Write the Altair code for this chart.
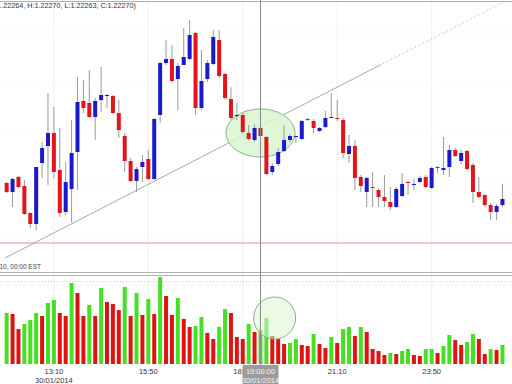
import altair as alt
import pandas as pd

# ---- candle data (10-minute bars, index 0 = 11:50, 30/01/2014) ----
opens = [1.22200,1.22191,1.22206,1.22197,1.22170,1.22159,1.22220,1.22237,1.22250,1.22213,
         1.22171,1.22194,1.22231,1.22282,1.22280,1.22266,1.22283,1.22287,1.22287,1.22270,
         1.22247,1.22222,1.22202,1.22216,1.22224,1.22204,1.22268,1.22320,1.22324,1.22304,
         1.22318,1.22324,1.22350,1.22275,1.22304,1.22319,1.22343,1.22309,1.22284,1.22267,
         1.22268,1.22250,1.22243,1.22255,1.22246,1.22211,1.22219,1.22232,1.22243,1.22246,
         1.22244,1.22264,1.22262,1.22252,1.22256,1.22265,1.22265,1.22263,1.22229,1.22237,
         1.22206,1.22191,1.22196,1.22193,1.22186,1.22181,1.22176,1.22187,1.22201,1.22198,
         1.22201,1.22206,1.22195,1.22216,1.22213,1.22216,1.22233,1.22222,1.22232,1.22218,
         1.22191,1.22188,1.22178,1.22171,1.22178]
highs = [1.22201,1.22205,1.22207,1.22203,1.22171,1.22216,1.22241,1.22290,1.22276,1.22255,
         1.22221,1.22263,1.22306,1.22303,1.22313,1.22285,1.22316,1.22289,1.22288,1.22283,
         1.22250,1.22225,1.22216,1.22228,1.22233,1.22265,1.22321,1.22343,1.22338,1.22320,
         1.22355,1.22363,1.22351,1.22333,1.22323,1.22353,1.22353,1.22310,1.22296,1.22280,
         1.22270,1.22258,1.22259,1.22258,1.22247,1.22220,1.22235,1.22258,1.22249,1.22248,
         1.22263,1.22265,1.22264,1.22256,1.22272,1.22290,1.22283,1.22265,1.22248,1.22243,
         1.22208,1.22206,1.22211,1.22195,1.22208,1.22196,1.22196,1.22210,1.22202,1.22204,
         1.22207,1.22208,1.22216,1.22217,1.22246,1.22238,1.22235,1.22233,1.22233,1.22220,
         1.22206,1.22189,1.22180,1.22179,1.22199]
lows  = [1.22190,1.22176,1.22195,1.22168,1.22155,1.22153,1.22205,1.22198,1.22205,1.22166,
         1.22168,1.22161,1.22193,1.22270,1.22265,1.22243,1.22271,1.22275,1.22269,1.22245,
         1.22211,1.22201,1.22191,1.22201,1.22203,1.22203,1.22260,1.22318,1.22300,1.22273,
         1.22318,1.22323,1.22268,1.22273,1.22301,1.22318,1.22305,1.22283,1.22263,1.22263,
         1.22249,1.22243,1.22241,1.22245,1.22208,1.22208,1.22217,1.22231,1.22241,1.22240,
         1.22243,1.22262,1.22250,1.22251,1.22255,1.22265,1.22262,1.22225,1.22220,1.22193,
         1.22191,1.22176,1.22176,1.22176,1.22176,1.22173,1.22175,1.22186,1.22188,1.22193,
         1.22200,1.22195,1.22194,1.22210,1.22208,1.22206,1.22226,1.22219,1.22213,1.22180,
         1.22185,1.22177,1.22163,1.22163,1.22176]
closes = [1.22191,1.22204,1.22196,1.22169,1.22159,1.22216,1.22235,1.22250,1.22211,1.22170,
          1.22201,1.22230,1.22281,1.22275,1.22266,1.22282,1.22288,1.22288,1.22270,1.22253,
          1.22222,1.22202,1.22214,1.22221,1.22204,1.22264,1.22320,1.22324,1.22302,1.22317,
          1.22326,1.22348,1.22275,1.22302,1.22320,1.22346,1.22307,1.22285,1.22265,1.22268,
          1.22251,1.22244,1.22255,1.22247,1.22209,1.22217,1.22231,1.22243,1.22247,1.22247,
          1.22262,1.22263,1.22255,1.22255,1.22265,1.22266,1.22264,1.22230,1.22237,1.22205,
          1.22197,1.22205,1.22195,1.22186,1.22182,1.22176,1.22194,1.22199,1.22200,1.22199,
          1.22205,1.22196,1.22215,1.22215,1.22215,1.22233,1.22227,1.22230,1.22214,1.22191,
          1.22186,1.22178,1.22171,1.22177,1.22184]

# ---- volume data ----
volumes = [510,500,350,400,440,510,480,610,640,510,480,810,710,480,590,480,760,620,600,540,
           770,480,710,490,650,500,870,680,490,660,450,370,380,470,310,250,370,550,510,270,
           250,400,320,340,460,280,250,200,210,250,190,180,300,200,160,270,210,350,370,280,
           370,320,150,130,90,110,100,130,150,90,80,150,150,110,180,290,240,190,220,300,
           250,100,150,140,190]
vol_dir = list("GRRGGGRGGRRGRRGRGRRRGRGRGRGRRGRRGGRRGGRRRGRGGRRRGGRRGRRGRGGRGRRRRGRGGRRGGRGGRRGGRRGRG")

# ---- axis labels / annotations ----
tick_index = [8, 24, 40, 56, 72]
tick_labels = ["13:10", "15:50", "18:30", "21:10", "23:50"]
date_label = "30/01/2014"
grid_prices = [1.22351, 1.22301, 1.22250, 1.22199, 1.22148]
red_level = [1.22140]
trend_solid_i = [-0.28, 63.3]
trend_solid_p = [1.22125, 1.22318]
trend_dot_i = [63.3, 84.27]
trend_dot_p = [1.22318, 1.22381]
cursor_index = 43
cursor_time = "19:00:00"
header = "(O:1.22264, H:1.22270, L:1.22263, C:1.22270)"
footer_note = "07/11/2010, 00:00 EST"
ellipse_center = [43.0, 1.22250]
vol_circle_center = [45.4, 460]

BLUE = "#1a1acc"
RED = "#e3151b"
GREEN = "#45e022"
VRED = "#e01313"
FONT = "Liberation Sans"

n = len(opens)
candles = pd.DataFrame({"i": list(range(n)), "open": opens, "high": highs,
                        "low": lows, "close": closes})
candles["up"] = candles["close"] >= candles["open"]
vol = pd.DataFrame({"i": list(range(n)), "vol": volumes, "dir": vol_dir})

xs = alt.Scale(domain=[-0.282, 84.767], nice=False, zero=False)
ps = alt.Scale(domain=[1.21999, 1.22383], nice=False, zero=False)
vs = alt.Scale(domain=[-200, 3640], nice=False, zero=False)

X = lambda f: alt.X(f, type="quantitative", scale=xs, axis=None)
YP = lambda f: alt.Y(f, type="quantitative", scale=ps, axis=None)
YV = lambda f: alt.Y(f, type="quantitative", scale=vs, axis=None)

# price panel
grid_h = alt.Chart(pd.DataFrame({"p": grid_prices})).mark_rule(
    color="#efefef", strokeDash=[1, 2], strokeWidth=1).encode(
    y=YP("p"), x=alt.value(0), x2=alt.value(512))
red_line = alt.Chart(pd.DataFrame({"p": red_level})).mark_rule(
    color="#e89090", strokeWidth=1).encode(y=YP("p"), x=alt.value(0), x2=alt.value(512))
trend1 = alt.Chart(pd.DataFrame({"i": trend_solid_i, "p": trend_solid_p})).mark_line(
    color="#a8a8a8", strokeWidth=1).encode(x=X("i"), y=YP("p"))
trend2 = alt.Chart(pd.DataFrame({"i": trend_dot_i, "p": trend_dot_p})).mark_line(
    color="#a8a8a8", strokeWidth=1, strokeDash=[1, 2]).encode(x=X("i"), y=YP("p"))
ellipse = alt.Chart(pd.DataFrame({"i": [ellipse_center[0]], "p": [ellipse_center[1]]})).mark_point(
    shape="M -1 0 A 1 0.696 0 1 0 1 0 A 1 0.696 0 1 0 -1 0 Z", size=4761,
    filled=True, fill="#d9f5d0", fillOpacity=0.85, stroke="#8fae8f", strokeWidth=1,
    opacity=1).encode(x=X("i"), y=YP("p"))
wicks = alt.Chart(candles).mark_rule(color="#9a9a9a", strokeWidth=1).encode(
    x=X("i"), y=YP("low"), y2="high")
bodies = alt.Chart(candles).mark_bar(size=4).encode(
    x=X("i"), y=YP("open"), y2="close",
    color=alt.condition("datum.up", alt.value(BLUE), alt.value(RED)))
price_layer = alt.layer(grid_h, red_line, trend1, trend2, ellipse, wicks, bodies)

# volume panel
vbars = alt.Chart(vol).mark_bar(size=4).encode(
    x=X("i"), y=YV("vol"),
    color=alt.Color("dir:N", scale=alt.Scale(domain=["G", "R"], range=[GREEN, VRED]), legend=None))
vcircle = alt.Chart(pd.DataFrame({"i": [vol_circle_center[0]], "v": [vol_circle_center[1]]})).mark_point(
    shape="circle", size=1764, filled=True, fill="#d9f5d0", fillOpacity=0.55,
    stroke="#8fae8f", strokeWidth=1, opacity=1).encode(x=X("i"), y=YV("v"))
vol_layer = alt.layer(vbars, vcircle)

# frame & annotations
grid_v = alt.Chart(pd.DataFrame({"i": tick_index})).mark_rule(color="#f0f0f0").encode(
    x=X("i"), y=alt.value(2), y2=alt.value(364))
frame = alt.Chart(pd.DataFrame({"y": [1.5, 272.5, 275.5]})).mark_rule(color="#b0b0b0").encode(
    y=alt.Y("y:Q", scale=None), x=alt.value(0), x2=alt.value(512))
dotted = alt.Chart(pd.DataFrame({"y": [281.5]})).mark_rule(color="#c8c8c8", strokeDash=[1, 2]).encode(
    y=alt.Y("y:Q", scale=None), x=alt.value(0), x2=alt.value(512))
cursor = alt.Chart(pd.DataFrame({"i": [cursor_index]})).mark_rule(color="#8a8a8a").encode(
    x=X("i"), y=alt.value(0), y2=alt.value(366))
labels = alt.Chart(pd.DataFrame({"i": tick_index, "t": tick_labels})).mark_text(
    font=FONT, fontSize=7.5, color="#333333", baseline="middle").encode(
    x=X("i"), y=alt.value(372), text="t")
date_txt = alt.Chart(pd.DataFrame({"i": [tick_index[0]], "t": [date_label]})).mark_text(
    font=FONT, fontSize=7.5, color="#333333", baseline="middle").encode(
    x=X("i"), y=alt.value(380.5), text="t")
box = alt.Chart(pd.DataFrame({"i": [cursor_index]})).mark_bar(size=36, color="#9c9c9c").encode(
    x=X("i"), y=alt.value(365), y2=alt.value(384))
box_txt = alt.Chart(pd.DataFrame({"i": [cursor_index, cursor_index],
                                  "t": [cursor_time, date_label],
                                  "yy": [372, 380.5]})).mark_text(
    font=FONT, fontSize=7.5, color="#f4f4f4", baseline="middle").encode(
    x=X("i"), y=alt.Y("yy:Q", scale=None), text="t")
head = alt.Chart(pd.DataFrame({"t": [header]})).mark_text(
    font=FONT, fontSize=7.2, color="#333333", align="right", baseline="middle").encode(
    x=alt.value(136), y=alt.value(6), text="t")
foot = alt.Chart(pd.DataFrame({"t": [footer_note]})).mark_text(
    font=FONT, fontSize=6.5, color="#444444", align="right", baseline="middle").encode(
    x=alt.value(41), y=alt.value(267), text="t")

chart = alt.layer(
    grid_v, frame, dotted, price_layer, vol_layer, cursor, labels, date_txt, box, box_txt, head, foot
).resolve_scale(y="independent").properties(
    width=512, height=384, padding=0, background="white",
    autosize=alt.AutoSizeParams(type="none"),
).configure_view(stroke=None)

chart.save("out.html", embed_options={"renderer": "svg", "actions": False})
